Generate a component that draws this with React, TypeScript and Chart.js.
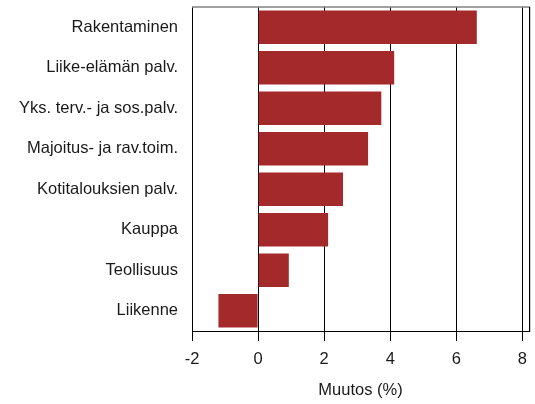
import React, { useEffect, useRef } from "react";
import { Chart, registerables } from "chart.js";

Chart.register(...registerables);

const categories = [
  "Rakentaminen",
  "Liike-elämän palv.",
  "Yks. terv.- ja sos.palv.",
  "Majoitus- ja rav.toim.",
  "Kotitalouksien palv.",
  "Kauppa",
  "Teollisuus",
  "Liikenne",
];
const changes = [6.62, 4.12, 3.73, 3.33, 2.57, 2.12, 0.93, -1.2];
const xTicks = [-2, 0, 2, 4, 6, 8];
const xTitle = "Muutos (%)";

const FONT = "'Liberation Sans', Arial, sans-serif";

const framePlugin = {
  id: "frame",
  afterDatasetsDraw(chart: any) {
    const { ctx, chartArea } = chart;
    const { left, right, top, bottom } = chartArea;
    ctx.save();
    ctx.strokeStyle = "#808080";
    ctx.lineWidth = 1.5;
    ctx.beginPath();
    ctx.moveTo(left, top);
    ctx.lineTo(right + 1, top);
    ctx.stroke();
    ctx.strokeStyle = "#c8c8c8";
    ctx.lineWidth = 1;
    ctx.beginPath();
    ctx.moveTo(right + 1.5, top);
    ctx.lineTo(right + 1.5, bottom + 1);
    ctx.stroke();
    ctx.strokeStyle = "#000";
    ctx.lineWidth = 1;
    ctx.beginPath();
    ctx.moveTo(right + 0.5, top);
    ctx.lineTo(right + 0.5, bottom);
    ctx.stroke();
    ctx.restore();
  },
};

export default function App() {
  const ref = useRef<HTMLCanvasElement | null>(null);
  useEffect(() => {
    if (!ref.current) return;
    const chart = new Chart(ref.current, {
      type: "bar",
      data: {
        labels: categories,
        datasets: [
          {
            data: changes,
            backgroundColor: "#a4292b",
            borderWidth: 0,
            barPercentage: 0.83,
            categoryPercentage: 1,
          },
        ],
      },
      options: {
        indexAxis: "y",
        animation: false,
        responsive: false,
        devicePixelRatio: 1,
        layout: { padding: { top: 7, right: 6, left: 0, bottom: 0 } },
        plugins: { legend: { display: false }, tooltip: { enabled: false } },
        scales: {
          x: {
            min: -2,
            max: 8.2,
            afterBuildTicks: (scale: any) => {
              scale.ticks = xTicks.map((v) => ({ value: v }));
            },
            afterFit: (scale: any) => {
              scale.height = 73;
              scale.paddingLeft = 0;
              scale.paddingRight = 0;
            },
            grid: {
              color: "#000",
              lineWidth: 1,
              tickLength: 10,
              drawTicks: true,
            },
            border: { display: true, color: "#000", width: 1 },
            ticks: {
              padding: 9,
              color: "#1a1a1a",
              font: { family: FONT, size: 16.5 },
              maxRotation: 0,
            },
            title: {
              display: true,
              text: xTitle,
              color: "#1a1a1a",
              font: { family: FONT, size: 16.5 },
              padding: { top: 4, bottom: 4 },
            },
          },
          y: {
            afterFit: (scale: any) => {
              scale.width = 192;
              scale.paddingTop = 0;
              scale.paddingBottom = 0;
            },
            grid: { display: false, drawTicks: false },
            border: { display: true, color: "#000", width: 1 },
            ticks: {
              padding: 14,
              color: "#1a1a1a",
              font: { family: FONT, size: 16.5 },
            },
          },
        },
      },
      plugins: [framePlugin],
    } as any);
    return () => chart.destroy();
  }, []);
  return (
    <div style={{ position: "fixed", left: 0, top: 0, width: 535, height: 404, background: "#fff" }}>
      <canvas ref={ref} width={535} height={404} style={{ width: 535, height: 404 }} />
    </div>
  );
}
